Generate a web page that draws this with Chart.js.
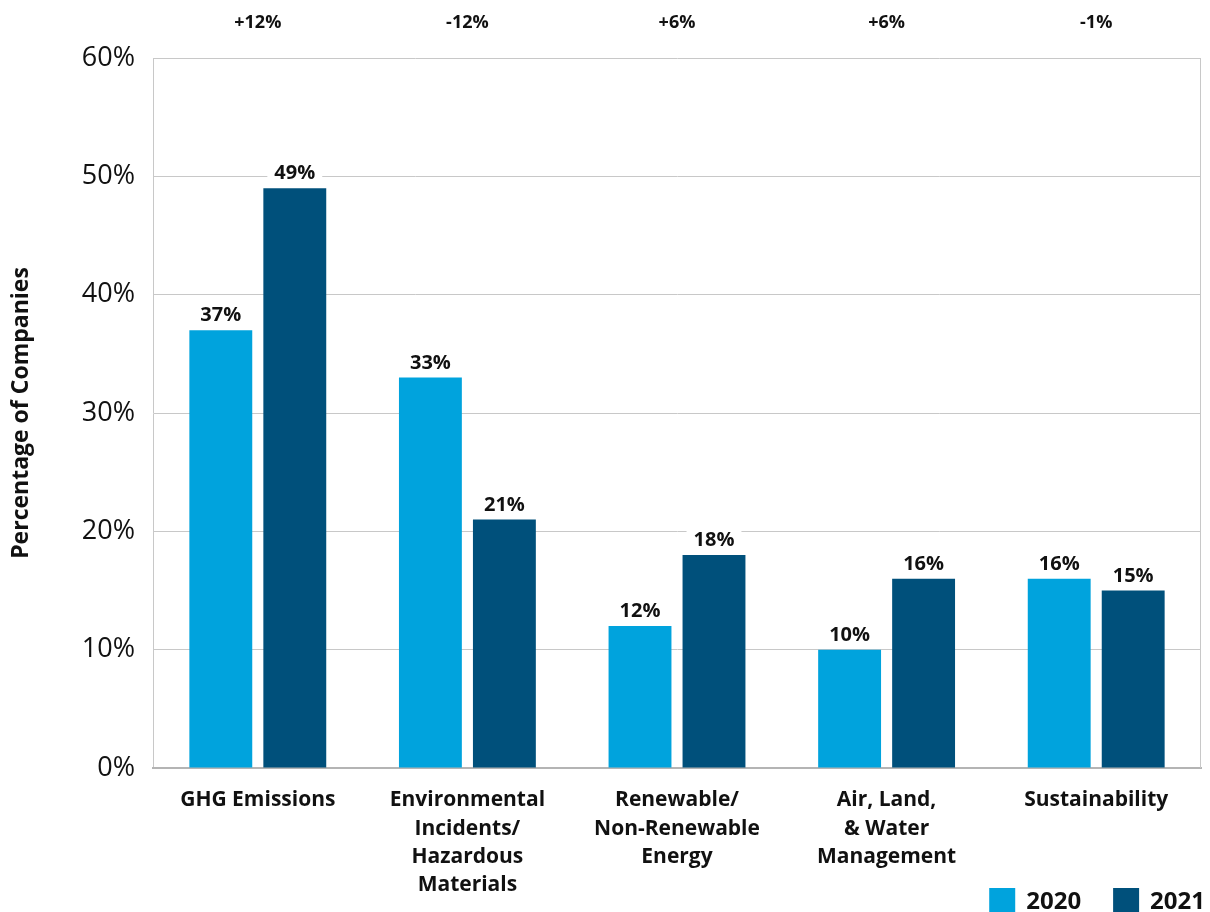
<!DOCTYPE html>
<html>
<head>
<meta charset="utf-8">
<script src="https://cdn.jsdelivr.net/npm/chart.js@4"></script>
<style>
  html, body { margin: 0; padding: 0; background: #fff; }
  #wrap { width: 1210px; height: 912px; }
</style>
</head>
<body>
<div id="wrap"><canvas id="grafico"></canvas></div>
<script>
const categorias = [
    'GHG Emissions',
    ['Environmental', 'Incidents/', 'Hazardous', 'Materials'],
    ['Renewable/', 'Non-Renewable', 'Energy'],
    ['Air, Land,', '& Water', 'Management'],
    'Sustainability'
];
const valores2020 = [37, 33, 12, 10, 16];
const valores2021 = [49, 21, 18, 16, 15];
const variacao = ['+12%', '-12%', '+6%', '+6%', '-1%'];

const FONTE = '"Open Sans", "DejaVu Sans", sans-serif';

// rotulos de valor em cima de cada barra, com fundo branco
const rotulosBarras = {
    id: 'rotulosBarras',
    afterDatasetsDraw(chart) {
        const c = chart.ctx;
        c.save();
        c.font = 'bold 20px ' + FONTE;
        c.textAlign = 'center';
        c.textBaseline = 'alphabetic';
        chart.data.datasets.forEach((ds, i) => {
            chart.getDatasetMeta(i).data.forEach((bar, j) => {
                const txt = ds.data[j] + '%';
                const w = c.measureText(txt).width + 14;
                c.fillStyle = '#fff';
                c.fillRect(bar.x - w / 2, bar.y - 29, w, 25);
                c.fillStyle = '#111';
                c.fillText(txt, bar.x, bar.y - 9);
            });
        });
        c.restore();
    }
};

// variacao entre anos no topo, moldura da direita e legenda no canto
const extras = {
    id: 'extras',
    beforeDatasetsDraw(chart) {
        const { ctx: c, chartArea: a } = chart;
        c.save();
        c.strokeStyle = '#c8c8c8';
        c.lineWidth = 1;
        c.beginPath();
        c.moveTo(a.right - 0.5, a.top);
        c.lineTo(a.right - 0.5, a.bottom);
        c.stroke();
        c.restore();
    },
    afterDraw(chart) {
        const c = chart.ctx;
        const x = chart.scales.x;
        c.save();
        c.font = 'bold 18px ' + FONTE;
        c.textAlign = 'center';
        c.textBaseline = 'middle';
        c.fillStyle = '#111';
        variacao.forEach((v, i) => c.fillText(v, x.getPixelForValue(i), 23));

        // legenda, alinhada a direita
        c.font = 'bold 24px ' + FONTE;
        c.textAlign = 'left';
        let fim = 1205;
        const caixa = 26, yMeio = 901;
        chart.data.datasets.slice().reverse().forEach(ds => {
            const w = c.measureText(ds.label).width;
            const tx = fim - w;
            const bx = tx - 11 - caixa;
            c.fillStyle = ds.backgroundColor;
            c.fillRect(bx, yMeio - caixa / 2, caixa, caixa);
            c.fillStyle = '#111';
            c.fillText(ds.label, tx, yMeio + 1);
            fim = bx - 32;
        });
        c.restore();
    }
};

new Chart(document.getElementById('grafico'), {
    type: 'bar',
    data: {
        labels: categorias,
        datasets: [
            {
                label: '2020',
                data: valores2020,
                backgroundColor: '#00a3dd',
                barPercentage: 0.85,
                categoryPercentage: 0.706
            },
            {
                label: '2021',
                data: valores2021,
                backgroundColor: '#00507b',
                barPercentage: 0.85,
                categoryPercentage: 0.706
            }
        ]
    },
    options: {
        responsive: true,
        maintainAspectRatio: false,
        animation: false,
        layout: { padding: { top: 58, right: 9, left: 0, bottom: 0 } },
        plugins: {
            tooltip: { enabled: false },
            legend: { display: false }
        },
        scales: {
            y: {
                min: 0,
                max: 60,
                ticks: {
                    stepSize: 10,
                    padding: 18,
                    color: '#111',
                    font: { family: FONTE, size: 27 },
                    callback: v => v + '%'
                },
                grid: { color: '#c8c8c8', drawTicks: false },
                border: { color: '#c8c8c8' },
                title: {
                    display: true,
                    text: 'Percentage of Companies',
                    color: '#111',
                    font: { family: FONTE, size: 23, weight: 'bold' },
                    padding: { top: 8, bottom: 0 }
                },
                afterFit(s) { s.width = 153; }
            },
            x: {
                ticks: {
                    color: '#111',
                    padding: 10,
                    maxRotation: 0,
                    autoSkip: false,
                    font: { family: FONTE, size: 21, weight: 'bold', lineHeight: 1.35 }
                },
                grid: { display: false },
                border: { color: '#b4b4b4', width: 2 },
                afterFit(s) { s.height = 144; }
            }
        }
    },
    plugins: [rotulosBarras, extras]
});
</script>
</body>
</html>
